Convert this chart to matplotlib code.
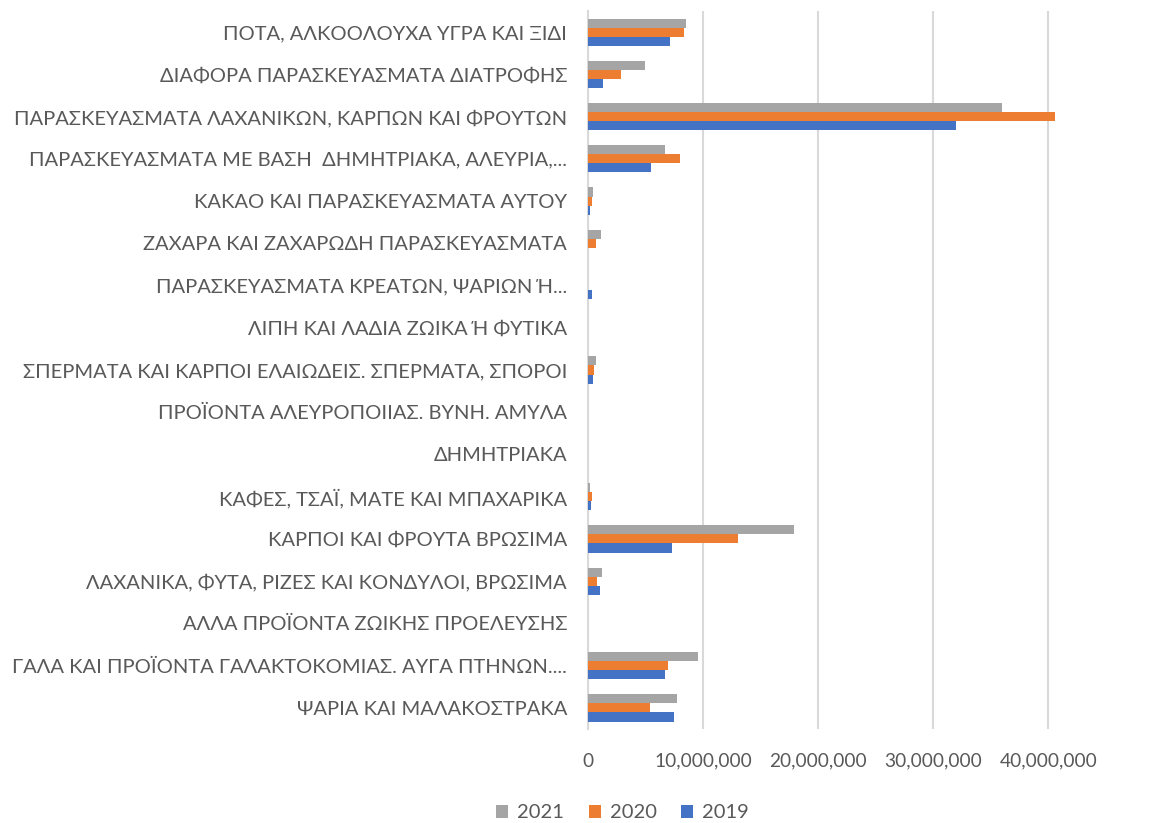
import numpy as np
import matplotlib
matplotlib.use("Agg")
import matplotlib.pyplot as plt
from matplotlib.ticker import FuncFormatter

# categories, top to bottom as shown in the chart
categories = [
    "ΠΟΤΑ, ΑΛΚΟΟΛΟΥΧΑ ΥΓΡΑ ΚΑΙ ΞΙΔΙ",
    "ΔΙΑΦΟΡΑ ΠΑΡΑΣΚΕΥΑΣΜΑΤΑ ΔΙΑΤΡΟΦΗΣ",
    "ΠΑΡΑΣΚΕΥΑΣΜΑΤΑ ΛΑΧΑΝΙΚΩΝ, ΚΑΡΠΩΝ ΚΑΙ ΦΡΟΥΤΩΝ",
    "ΠΑΡΑΣΚΕΥΑΣΜΑΤΑ ΜΕ ΒΑΣΗ  ΔΗΜΗΤΡΙΑΚΑ, ΑΛΕΥΡΙΑ,...",
    "ΚΑΚΑΟ ΚΑΙ ΠΑΡΑΣΚΕΥΑΣΜΑΤΑ ΑΥΤΟΥ",
    "ΖΑΧΑΡΑ ΚΑΙ ΖΑΧΑΡΩΔΗ ΠΑΡΑΣΚΕΥΑΣΜΑΤΑ",
    "ΠΑΡΑΣΚΕΥΑΣΜΑΤΑ ΚΡΕΑΤΩΝ, ΨΑΡΙΩΝ Ή...",
    "ΛΙΠΗ ΚΑΙ ΛΑΔΙΑ ΖΩΙΚΑ Ή ΦΥΤΙΚΑ",
    "ΣΠΕΡΜΑΤΑ ΚΑΙ ΚΑΡΠΟΙ ΕΛΑΙΩΔΕΙΣ. ΣΠΕΡΜΑΤΑ, ΣΠΟΡΟΙ",
    "ΠΡΟΪΟΝΤΑ ΑΛΕΥΡΟΠΟΙΙΑΣ. ΒΥΝΗ. ΑΜΥΛΑ",
    "ΔΗΜΗΤΡΙΑΚΑ",
    "ΚΑΦΕΣ, ΤΣΑΪ, ΜΑΤΕ ΚΑΙ ΜΠΑΧΑΡΙΚΑ",
    "ΚΑΡΠΟΙ ΚΑΙ ΦΡΟΥΤΑ ΒΡΩΣΙΜΑ",
    "ΛΑΧΑΝΙΚΑ, ΦΥΤΑ, ΡΙΖΕΣ ΚΑΙ ΚΟΝΔΥΛΟΙ, ΒΡΩΣΙΜΑ",
    "ΑΛΛΑ ΠΡΟΪΟΝΤΑ ΖΩΙΚΗΣ ΠΡΟΕΛΕΥΣΗΣ",
    "ΓΑΛΑ ΚΑΙ ΠΡΟΪΟΝΤΑ ΓΑΛΑΚΤΟΚΟΜΙΑΣ. ΑΥΓΑ ΠΤΗΝΩΝ....",
    "ΨΑΡΙΑ ΚΑΙ ΜΑΛΑΚΟΣΤΡΑΚΑ",
]

# values (estimates)
v2019 = [7090000, 1340000, 32000000, 5510000, 220000, 0, 330000, 0, 450000,
         0, 0, 250000, 7330000, 1020000, 0, 6720000, 7440000]
v2020 = [8310000, 2880000, 40600000, 8020000, 330000, 710000, 0, 0, 560000,
         0, 0, 360000, 13050000, 760000, 0, 6920000, 5390000]
v2021 = [8520000, 4990000, 36000000, 6720000, 450000, 1100000, 0, 0, 680000,
         0, 0, 200000, 17940000, 1200000, 0, 9560000, 7730000]

years = ["2021", "2020", "2019"]
colors = {"2021": "#A5A5A5", "2020": "#ED7D31", "2019": "#4472C4"}
series = {"2021": v2021, "2020": v2020, "2019": v2019}

plt.rcParams["font.family"] = ["Lato", "DejaVu Sans"]

fig = plt.figure(figsize=(11.55, 8.23), dpi=100)
ax = fig.add_axes([0.509, 0.1142, 0.4485, 0.8724])

n = len(categories)
y = np.arange(n)[::-1]
h = 0.215
offsets = {"2021": h, "2020": 0, "2019": -h}

for yr in years:
    ax.barh(y + offsets[yr], series[yr], height=h, color=colors[yr],
            label=yr, zorder=3)

ax.set_ylim(-0.5, n - 0.5)
ax.set_xlim(0, 45000000)
ax.set_xticks([0, 10000000, 20000000, 30000000, 40000000])
ax.xaxis.set_major_formatter(FuncFormatter(lambda v, p: f"{int(v):,}"))
ax.set_yticks(y)
ax.set_yticklabels(categories)

ax.grid(axis="x", color="#D9D9D9", linewidth=1.5, zorder=0)
for s in ["top", "right", "bottom"]:
    ax.spines[s].set_visible(False)
ax.spines["left"].set_color("#D9D9D9")
ax.spines["left"].set_linewidth(1.5)
ax.tick_params(axis="both", length=0, colors="#595959")
ax.tick_params(axis="y", pad=15, labelsize=14.5)
ax.tick_params(axis="x", pad=17, labelsize=13.8)

leg = fig.legend(loc="center", bbox_to_anchor=(0.539, 0.0125), ncol=3,
                 frameon=False, fontsize=14.5, handlelength=0.6,
                 handleheight=0.6, handletextpad=0.45, columnspacing=1.2)
for t in leg.get_texts():
    t.set_color("#595959")

fig.savefig("out.png", dpi=100)
